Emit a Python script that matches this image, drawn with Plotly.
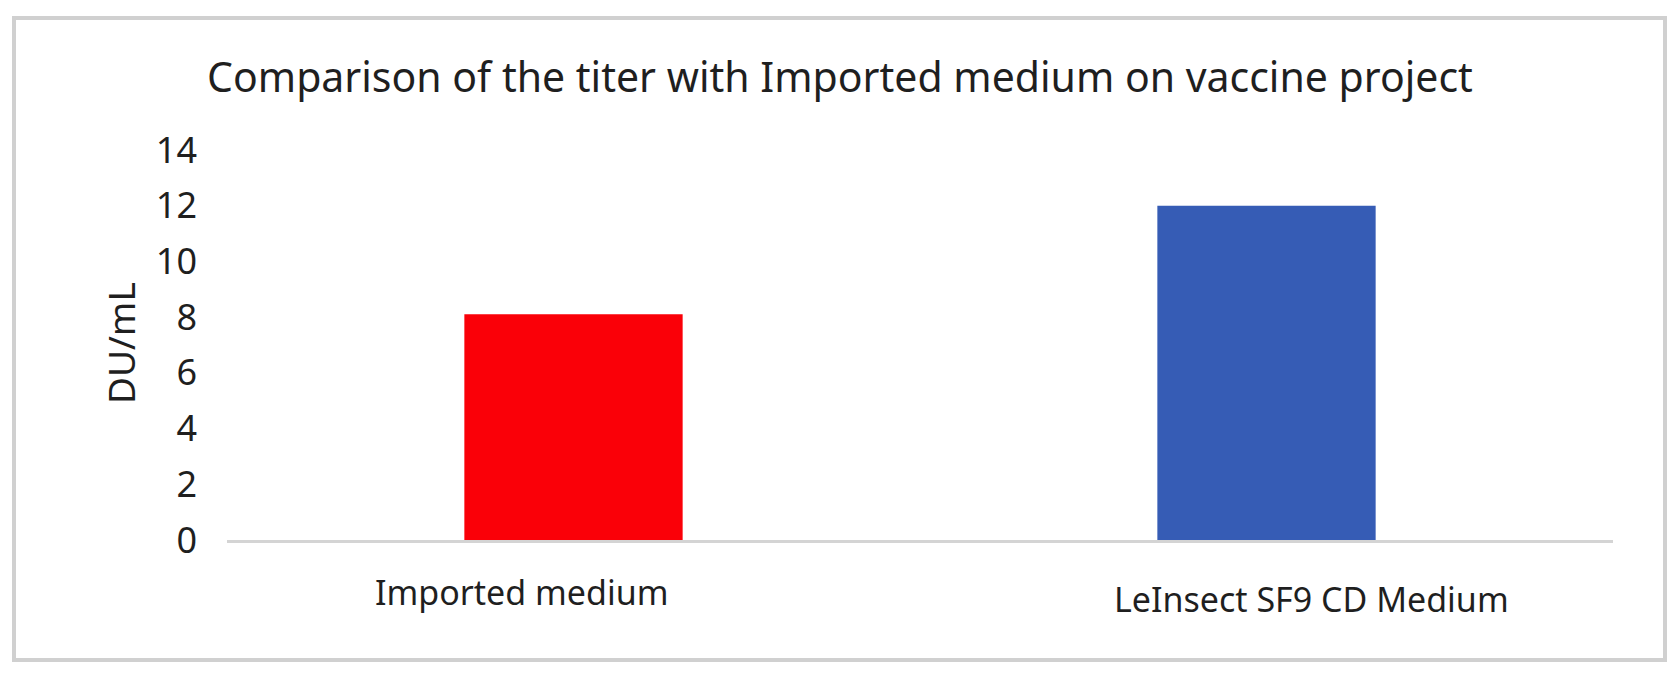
import plotly.graph_objects as go

# ---- data ----
categories = ["Imported medium", "LeInsect SF9 CD Medium"]
values = [8.1, 12.0]
bar_colors = ["#fa0008", "#365cb5"]
y_ticks = [0, 2, 4, 6, 8, 10, 12, 14]
title_text = "Comparison of the titer with Imported medium on vaccine project"
y_title = "DU/mL"

# ---- layout tweaks ----
label_xshift = [-52, 45]
label_yshift = [-52, -59]
FONT = "Noto Sans"
TXT = "#1f1f1f"

OFF = 8  # default page body margin
W, H = 1678 - OFF, 674 - OFF
L, R, T, B = 227 - OFF, 65, 150 - OFF, 134
pw, ph = W - L - R, H - T - B

def px_x(px):  # page pixel -> paper
    return (px - OFF - L) / pw

def px_y(py):
    return (H - B - (py - OFF)) / ph

fig = go.Figure()
fig.add_trace(go.Bar(
    x=categories, y=values,
    marker=dict(color=bar_colors, line=dict(width=0)),
    width=0.315,
    hoverinfo="x+y",
))

annotations = []
for cat, dx, dy in zip(categories, label_xshift, label_yshift):
    annotations.append(dict(
        x=cat, xref="x", y=0, yref="y", text=cat, showarrow=False,
        xanchor="center", yanchor="middle", xshift=dx, yshift=dy,
        font=dict(family=FONT, size=34, color=TXT),
    ))
annotations.append(dict(
    x=px_x(120), xref="paper", y=px_y(343), yref="paper", text=y_title,
    textangle=-90, showarrow=False, xanchor="center", yanchor="middle",
    font=dict(family=FONT, size=37, color=TXT),
))

fig.update_layout(
    width=W, height=H,
    margin=dict(l=L, r=R, t=T, b=B, pad=0),
    paper_bgcolor="white", plot_bgcolor="white",
    title=dict(text=title_text, x=(840 - OFF) / W, xref="container", xanchor="center",
               y=1 - (78 - OFF) / H, yref="container", yanchor="middle",
               font=dict(family=FONT, size=41, color=TXT)),
    showlegend=False,
    xaxis=dict(showticklabels=False, showgrid=False, zeroline=False,
               showline=True, linecolor="#d4d4d4", linewidth=3,
               ticks="", fixedrange=True),
    yaxis=dict(range=[0, 14], tickvals=y_ticks, showgrid=False,
               zeroline=False, showline=False, ticks="",
               tickfont=dict(family=FONT, size=36, color=TXT),
               ticklabelstandoff=29, automargin=False, fixedrange=True),
    annotations=annotations,
    shapes=[dict(type="rect", xref="paper", yref="paper",
                 x0=px_x(14), x1=px_x(1665), y0=px_y(660), y1=px_y(18),
                 line=dict(color="#d0d0d0", width=4), layer="below")],
)

fig.write_html("out.html")
